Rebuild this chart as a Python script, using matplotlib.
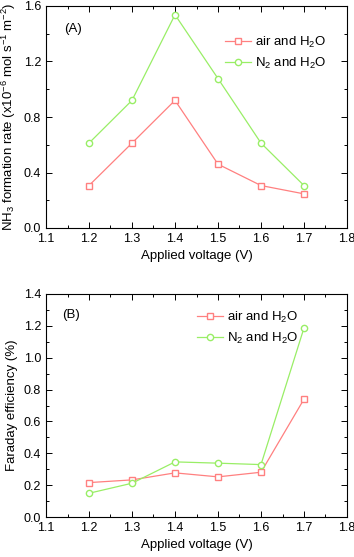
import matplotlib
matplotlib.use("Agg")
import matplotlib.pyplot as plt
from matplotlib.ticker import MultipleLocator

plt.rcParams['font.family'] = ['Liberation Sans', 'DejaVu Sans']
plt.rcParams['font.size'] = 9
plt.rcParams['mathtext.default'] = 'regular'

voltage = [1.2, 1.3, 1.4, 1.5, 1.6, 1.7]
# (A) NH3 formation rate
rate_air = [0.306, 0.612, 0.92, 0.46, 0.306, 0.246]
rate_n2 = [0.612, 0.92, 1.537, 1.077, 0.612, 0.306]
# (B) Faraday efficiency
fe_air = [0.216, 0.233, 0.277, 0.252, 0.281, 0.740]
fe_n2 = [0.149, 0.212, 0.346, 0.338, 0.329, 1.187]

red = '#ff8080'
green = '#99ee66'

fig = plt.figure(figsize=(3.54, 5.57), dpi=100)
W, H = 354, 557
axA = fig.add_axes([46 / W, 1 - 228 / H, 301 / W, 222 / H])
axB = fig.add_axes([46 / W, 1 - 517 / H, 301 / W, 223 / H])


def style(ax, ymax, ystep, yminor, legpos):
    ax.set_xlim(1.1, 1.8)
    ax.set_ylim(0, ymax)
    ax.xaxis.set_major_locator(MultipleLocator(0.1))
    ax.xaxis.set_minor_locator(MultipleLocator(0.05))
    ax.yaxis.set_major_locator(MultipleLocator(ystep))
    ax.yaxis.set_minor_locator(MultipleLocator(yminor))
    ax.yaxis.set_major_formatter(plt.FormatStrFormatter('%.1f'))
    ax.tick_params(which='both', direction='in', top=True, right=True,
                   labeltop=False, labelright=False, labelsize=9)
    ax.tick_params(which='major', length=4, width=0.7)
    ax.tick_params(which='minor', length=2, width=0.7)
    for s in ax.spines.values():
        s.set_linewidth(0.8)
    ax.set_xlabel('Applied voltage (V)', fontsize=9.5, labelpad=4)
    ax.legend(loc='upper left', frameon=False, handlelength=2.0,
              bbox_to_anchor=legpos, borderaxespad=0, borderpad=0,
              labelspacing=0.45, handletextpad=0.3, fontsize=9.5)


for ax, a, n in [(axA, rate_air, rate_n2), (axB, fe_air, fe_n2)]:
    ax.plot(voltage, a, '-s', color=red, lw=0.9, ms=4.5, mfc='white', mec=red,
            label='air and H$_2$O')
    ax.plot(voltage, n, '-o', color=green, lw=0.9, ms=4.5, mfc='white', mec=green,
            label='N$_2$ and H$_2$O')

style(axA, 1.6, 0.4, 0.2, (0.595, 0.87))
style(axB, 1.4, 0.2, 0.1, (0.502, 0.93))

axA.set_ylabel('NH$_3$ formation rate (x10$^{-6}$ mol s$^{-1}$ m$^{-2}$)', fontsize=9.5)
axB.set_ylabel('Faraday efficiency (%)', fontsize=9.5)

axA.text(0.06, 0.896, '(A)', transform=axA.transAxes, fontsize=9.5, va='center')
axB.text(0.053, 0.906, '(B)', transform=axB.transAxes, fontsize=9.5, va='center')

fig.savefig('out.png', dpi=100)
